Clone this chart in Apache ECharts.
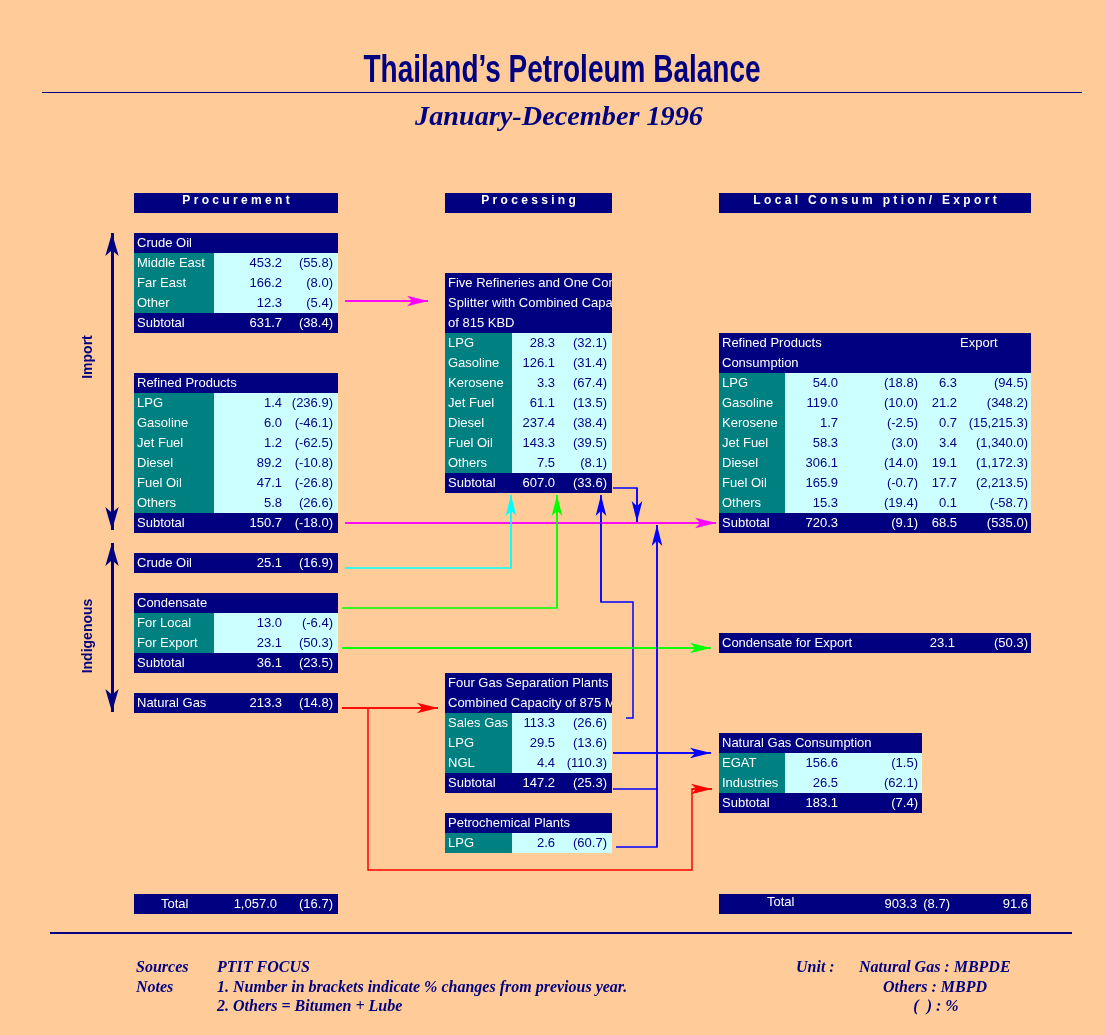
<!DOCTYPE html>
<html>
<head>
<meta charset="utf-8">
<script src="https://cdn.jsdelivr.net/npm/echarts@6/dist/echarts.min.js"></script>
<style>
  html, body { margin: 0; padding: 0; background: #FFCC99; }
  #chart { width: 1105px; height: 1035px; }
</style>
</head>
<body>
<div id="chart"></div>
<script>
// ---------- data (MBPD, natural gas MBPDE; pct = % change vs 1995) ----------
const crudeImportItems = ['Middle East', 'Far East', 'Other']
const crudeImportVals = [453.2, 166.2, 12.3]
const crudeImportPct = [55.8, 8.0, 5.4]
const crudeImportSub = [631.7, 38.4]

const refinedImportItems = ['LPG', 'Gasoline', 'Jet Fuel', 'Diesel', 'Fuel Oil', 'Others']
const refinedImportVals = [1.4, 6.0, 1.2, 89.2, 47.1, 5.8]
const refinedImportPct = [236.9, -46.1, -62.5, -10.8, -26.8, 26.6]
const refinedImportSub = [150.7, -18.0]

const crudeLocal = [25.1, 16.9]
const condItems = ['For Local', 'For Export']
const condVals = [13.0, 23.1]
const condPct = [-6.4, 50.3]
const condSub = [36.1, 23.5]
const natGas = [213.3, 14.8]

const refineryItems = ['LPG', 'Gasoline', 'Kerosene', 'Jet Fuel', 'Diesel', 'Fuel Oil', 'Others']
const refineryVals = [28.3, 126.1, 3.3, 61.1, 237.4, 143.3, 7.5]
const refineryPct = [32.1, 31.4, 67.4, 13.5, 38.4, 39.5, 8.1]
const refinerySub = [607.0, 33.6]

const gspItems = ['Sales Gas', 'LPG', 'NGL']
const gspVals = [113.3, 29.5, 4.4]
const gspPct = [26.6, 13.6, 110.3]
const gspSub = [147.2, 25.3]

const petroItems = ['LPG']
const petroVals = [2.6]
const petroPct = [60.7]

const consItems = ['LPG', 'Gasoline', 'Kerosene', 'Jet Fuel', 'Diesel', 'Fuel Oil', 'Others']
const consVals = [54.0, 119.0, 1.7, 58.3, 306.1, 165.9, 15.3]
const consPct = [18.8, 10.0, -2.5, 3.0, 14.0, -0.7, 19.4]
const exportVals = [6.3, 21.2, 0.7, 3.4, 19.1, 17.7, 0.1]
const exportPct = [94.5, 348.2, 15215.3, 1340.0, 1172.3, 2213.5, -58.7]
const consSub = [720.3, 9.1, 68.5, 535.0]

const condExport = [23.1, 50.3]
const ngItems = ['EGAT', 'Industries']
const ngVals = [156.6, 26.5]
const ngPct = [1.5, 62.1]
const ngSub = [183.1, 7.4]

const totalSupply = [1057.0, 16.7]
const totalUse = [903.3, 8.7, 91.6]

// ---------- styles / layout ----------
const NAVY = '#000080', TEAL = '#008080', LIGHT = '#CCFFFF', WHITE = '#FFFFFF'
const ROW = 20
const FONT = '13px "Liberation Sans", Arial, sans-serif'
const HFONT = 'bold 12px "Liberation Sans", Arial, sans-serif'
const NOTE = 'italic bold 16px "Liberation Serif", "Times New Roman", serif'
const TITLE_FONT = 'bold 39px "Liberation Sans", Arial, sans-serif'
const SUB_FONT = 'italic bold 27px "Liberation Serif", "Times New Roman", serif'

const layout = {
  procHead: { x: 134, y: 193, w: 204 },
  processHead: { x: 445, y: 193, w: 167 },
  consHead: { x: 719, y: 193, w: 312 },
  crudeImp: { x: 134, y: 233, w: 204, lw: 80, rx: [148, 199] },
  refImp: { x: 134, y: 373, w: 204, lw: 80, rx: [148, 199] },
  crudeLoc: { x: 134, y: 553, w: 204, rx: [148, 199] },
  cond: { x: 134, y: 593, w: 204, lw: 80, rx: [148, 199] },
  natGas: { x: 134, y: 693, w: 204, rx: [148, 199] },
  refinery: { x: 445, y: 273, w: 167, lw: 67, rx: [110, 162] },
  gsp: { x: 445, y: 673, w: 167, lw: 67, rx: [110, 162] },
  petro: { x: 445, y: 813, w: 167, lw: 67, rx: [110, 162] },
  cons: { x: 719, y: 333, w: 312, lw: 66, rx: [119, 199, 238, 309] },
  condExp: { x: 719, y: 633, w: 312, rx: [236, 309] },
  ngCons: { x: 719, y: 733, w: 203, lw: 66, rx: [119, 199] },
  totL: { x: 134, y: 894, w: 204, lx: 27, rx: [143, 199] },
  totR: { x: 719, y: 894, w: 312, lx: 48, rx: [198, 231, 309] }
}

const fmt = v => v.toLocaleString('en-US', { minimumFractionDigits: 1, maximumFractionDigits: 1 })
const pc = v => '(' + fmt(v) + ')'
const pairFmt = arr => arr.map((v, i) => (i % 2 ? pc(v) : fmt(v)))

// ---------- build table cells ----------
const cells = []
function bar (x, y, w, fill, texts) {
  cells.push({ x, y, w, h: ROW, fill, texts })
}
function T (t, x, align, color, extra) {
  return Object.assign({ t, x, align, color, font: FONT, dy: 0 }, extra || {})
}
function colHead (L, text) {
  bar(L.x, L.y, L.w, NAVY, [T(text, L.x + L.w / 2, 'center', WHITE, { font: HFONT, dy: -3 })])
}
function table (L, head, items, cols, sub) {
  let y = L.y
  head.forEach(h => {
    const line = typeof h === 'string' ? { t: h } : h
    const tx = [T(line.t, L.x + 3, 'left', WHITE, { clip: [L.x, L.x + L.w] })]
    if (line.extra) tx.push(T(line.extra, L.x + line.ex, 'left', WHITE))
    bar(L.x, y, L.w, NAVY, tx)
    y += ROW
  })
  items.forEach((it, i) => {
    bar(L.x, y, L.lw, TEAL, [T(it, L.x + 3, 'left', WHITE)])
    bar(L.x + L.lw, y, L.w - L.lw, LIGHT, cols.map((c, j) => T(c[i], L.x + L.rx[j], 'right', NAVY)))
    y += ROW
  })
  if (sub) {
    bar(L.x, y, L.w, NAVY, [T('Subtotal', L.x + 3, 'left', WHITE)]
      .concat(sub.map((v, j) => T(v, L.x + L.rx[j], 'right', WHITE))))
  }
}
function single (L, label, vals, lx, labelDy) {
  bar(L.x, L.y, L.w, NAVY, [T(label, L.x + (lx || 3), 'left', WHITE, { dy: labelDy || 0 })]
    .concat(vals.map((v, j) => T(v, L.x + L.rx[j], 'right', WHITE))))
}

colHead(layout.procHead, 'P r o c u r e m e n t')
colHead(layout.processHead, 'P r o c e s s i n g')
colHead(layout.consHead, 'L o c a l   C o n s u m   p t i o n /   E x p o r t')

table(layout.crudeImp, ['Crude Oil'], crudeImportItems,
  [crudeImportVals.map(fmt), crudeImportPct.map(pc)], pairFmt(crudeImportSub))
table(layout.refImp, ['Refined Products'], refinedImportItems,
  [refinedImportVals.map(fmt), refinedImportPct.map(pc)], pairFmt(refinedImportSub))
single(layout.crudeLoc, 'Crude Oil', pairFmt(crudeLocal))
table(layout.cond, ['Condensate'], condItems, [condVals.map(fmt), condPct.map(pc)], pairFmt(condSub))
single(layout.natGas, 'Natural Gas', pairFmt(natGas))

table(layout.refinery, ['Five Refineries and One Condensate', 'Splitter with Combined Capacity', 'of 815 KBD'],
  refineryItems, [refineryVals.map(fmt), refineryPct.map(pc)], pairFmt(refinerySub))
table(layout.gsp, ['Four Gas Separation Plants with', 'Combined Capacity of 875 MMSCFD'],
  gspItems, [gspVals.map(fmt), gspPct.map(pc)], pairFmt(gspSub))
table(layout.petro, ['Petrochemical Plants'], petroItems, [petroVals.map(fmt), petroPct.map(pc)], null)

table(layout.cons, [{ t: 'Refined Products', extra: 'Export', ex: 241 }, 'Consumption'], consItems,
  [consVals.map(fmt), consPct.map(pc), exportVals.map(fmt), exportPct.map(pc)], pairFmt(consSub))
single(layout.condExp, 'Condensate for Export', pairFmt(condExport))
table(layout.ngCons, ['Natural Gas Consumption'], ngItems, [ngVals.map(fmt), ngPct.map(pc)], pairFmt(ngSub))

single(layout.totL, 'Total', pairFmt(totalSupply), layout.totL.lx)
single(layout.totR, 'Total', [fmt(totalUse[0]), pc(totalUse[1]), fmt(totalUse[2])], layout.totR.lx, -2)

// ---------- flow arrows (routes end at the arrow tip) ----------
const MAG = '#FF00FF', CYAN = '#00FFFF', GREEN = '#00FF00', BLUE = '#0000FF', RED = '#FF0000'
const ARROW = [8, 21]      // [across, along]
const SIDE_ARROW = [10, 23]
const routes = [
  { c: MAG, p: [[345, 301], [428, 301]] },
  { c: MAG, p: [[345, 523], [716, 523]] },
  { c: CYAN, p: [[345, 568], [511, 568], [511, 495]] },
  { c: GREEN, p: [[342, 608], [557, 608], [557, 495]] },
  { c: GREEN, p: [[342, 648], [711, 648]] },
  { c: RED, p: [[342, 708], [438, 708]] },
  { c: RED, p: [[368, 708], [368, 870], [692, 870], [692, 789], [712, 789]] },
  { c: BLUE, p: [[613, 488], [637, 488], [637, 522]] },
  { c: BLUE, p: [[626, 718], [633, 718], [633, 602], [601, 602], [601, 495]] },
  { c: BLUE, p: [[616, 847], [657, 847], [657, 525]] },
  { c: BLUE, p: [[613, 753], [711, 753]] }
]
const plainRoutes = [
  { c: BLUE, p: [[613, 789], [658, 789]] }
]
const sideArrows = [
  [[112, 233], [112, 530]],
  [[112, 543], [112, 712]]
]

// squeeze title text horizontally to the reference width
const measureCtx = document.createElement('canvas').getContext('2d')
function fitScale (text, font, width) {
  measureCtx.font = font
  return width / measureCtx.measureText(text).width
}
const titleText = 'Thailand\u2019s Petroleum Balance'
const subText = 'January-December 1996'

const chart = echarts.init(document.getElementById('chart'))

const option = {
  backgroundColor: '#FFCC99',
  animation: false,
  grid: { left: 0, right: 0, top: 0, bottom: 0 },
  xAxis: { type: 'value', min: 0, max: 1105, show: false },
  yAxis: { type: 'value', min: 0, max: 1035, inverse: true, show: false },
  graphic: [
    { type: 'text', x: 562, y: 71, scaleX: fitScale(titleText, TITLE_FONT, 397), style: { text: titleText, fill: NAVY, font: TITLE_FONT, align: 'center', verticalAlign: 'middle' } },
    { type: 'text', x: 559, y: 118, scaleX: fitScale(subText, SUB_FONT, 288), style: { text: subText, fill: NAVY, font: SUB_FONT, align: 'center', verticalAlign: 'middle' } },
    { type: 'line', shape: { x1: 42, y1: 92.5, x2: 1082, y2: 92.5 }, style: { stroke: NAVY, lineWidth: 1 } },
    { type: 'line', shape: { x1: 50, y1: 933, x2: 1072, y2: 933 }, style: { stroke: NAVY, lineWidth: 2 } },
    { type: 'text', x: 88, y: 357, rotation: Math.PI / 2, style: { text: 'Import', fill: NAVY, font: 'bold 14px "Liberation Sans", Arial, sans-serif', align: 'center', verticalAlign: 'middle' } },
    { type: 'text', x: 88, y: 636, rotation: Math.PI / 2, style: { text: 'Indigenous', fill: NAVY, font: 'bold 14px "Liberation Sans", Arial, sans-serif', align: 'center', verticalAlign: 'middle' } },
    { type: 'text', x: 136, y: 968, style: { text: 'Sources', fill: NAVY, font: NOTE, verticalAlign: 'middle' } },
    { type: 'text', x: 217, y: 968, style: { text: 'PTIT FOCUS', fill: NAVY, font: NOTE, verticalAlign: 'middle' } },
    { type: 'text', x: 136, y: 988, style: { text: 'Notes', fill: NAVY, font: NOTE, verticalAlign: 'middle' } },
    { type: 'text', x: 217, y: 988, style: { text: '1. Number in brackets indicate % changes from previous year.', fill: NAVY, font: NOTE, verticalAlign: 'middle' } },
    { type: 'text', x: 217, y: 1007, style: { text: '2. Others = Bitumen + Lube', fill: NAVY, font: NOTE, verticalAlign: 'middle' } },
    { type: 'text', x: 796, y: 968, style: { text: 'Unit :', fill: NAVY, font: NOTE, verticalAlign: 'middle' } },
    { type: 'text', x: 859, y: 968, style: { text: 'Natural Gas : MBPDE', fill: NAVY, font: NOTE, verticalAlign: 'middle' } },
    { type: 'text', x: 935, y: 988, style: { text: 'Others : MBPD', fill: NAVY, font: NOTE, align: 'center', verticalAlign: 'middle' } },
    { type: 'text', x: 936, y: 1007, style: { text: '(  ) : %', fill: NAVY, font: NOTE, align: 'center', verticalAlign: 'middle' } }
  ],
  series: [
    {
      // route bodies
      type: 'lines',
      coordinateSystem: 'cartesian2d',
      polyline: true,
      lineStyle: { width: 1.5, opacity: 1 },
      data: routes.concat(plainRoutes).map(r => ({ coords: r.p, lineStyle: { color: r.c } })),
      z: 1
    },
    {
      // last leg of each route with its arrow head (tip sits on the end point)
      type: 'lines',
      coordinateSystem: 'cartesian2d',
      symbol: ['none', 'arrow'],
      symbolSize: [ARROW, ARROW],
      lineStyle: { width: 1.5, opacity: 1 },
      data: routes.map(r => ({ coords: r.p.slice(-2), lineStyle: { color: r.c }, itemStyle: { color: r.c } })),
      z: 1
    },
    {
      type: 'lines',
      coordinateSystem: 'cartesian2d',
      symbol: ['arrow', 'arrow'],
      symbolSize: [SIDE_ARROW, SIDE_ARROW],
      lineStyle: { width: 3, color: NAVY, opacity: 1 },
      itemStyle: { color: NAVY },
      data: sideArrows.map(p => ({ coords: p })),
      z: 1
    },
    {
      type: 'custom',
      coordinateSystem: 'cartesian2d',
      clip: false,
      z: 2,
      data: cells.map(c => [c.x, c.y, c.x + c.w, c.y + c.h]),
      renderItem: function (params, api) {
        const c = cells[params.dataIndex]
        const p0 = api.coord([api.value(0), api.value(1)])
        const p1 = api.coord([api.value(2), api.value(3)])
        const cy = (p0[1] + p1[1]) / 2 + 0.5
        const children = [{
          type: 'rect',
          shape: { x: p0[0], y: p0[1], width: p1[0] - p0[0], height: p1[1] - p0[1] },
          style: { fill: c.fill }
        }]
        c.texts.forEach(t => {
          const el = {
            type: 'text',
            style: { text: t.t, x: api.coord([t.x, 0])[0], y: cy + t.dy, fill: t.color, font: t.font, align: t.align, verticalAlign: 'middle' }
          }
          if (t.clip) {
            const cx0 = api.coord([t.clip[0], 0])[0], cx1 = api.coord([t.clip[1], 0])[0]
            el.clipPath = { type: 'rect', shape: { x: cx0, y: p0[1], width: cx1 - cx0, height: p1[1] - p0[1] } }
          }
          children.push(el)
        })
        return { type: 'group', children }
      }
    }
  ]
}

chart.setOption(option)
</script>
</body>
</html>
